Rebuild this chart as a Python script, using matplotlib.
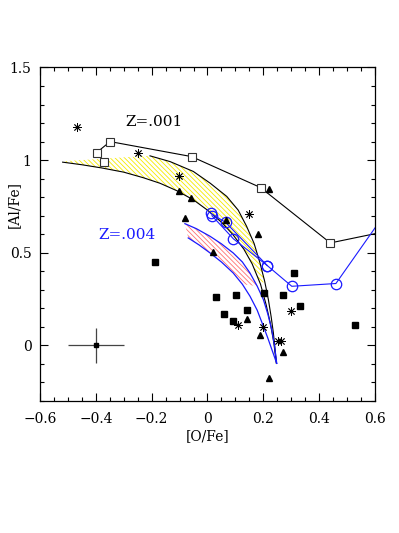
import numpy as np
import matplotlib
matplotlib.use('Agg')
import matplotlib.pyplot as plt
from matplotlib.ticker import MultipleLocator, FuncFormatter

plt.rcParams['font.family'] = ['DejaVu Serif']
plt.rcParams['hatch.linewidth'] = 0.6

# model tracks (open symbols)
z001_x = [-0.370, -0.397, -0.349, -0.057, 0.190, 0.440, 0.700]
z001_y = [0.992, 1.041, 1.100, 1.019, 0.852, 0.553, 0.634]
z004a_x = [0.012, 0.065, 0.214]
z004a_y = [0.712, 0.664, 0.431]
z004b_x = [0.016, 0.093, 0.214, 0.302, 0.460, 0.650]
z004b_y = [0.700, 0.575, 0.431, 0.319, 0.334, 0.741]

# dilution bands, Z=.001 (yellow) and Z=.004 (red)
yl_x = [-0.519, -0.45, -0.38, -0.30, -0.23, -0.17, -0.11, -0.05, 0.00, 0.05, 0.09,
        0.13, 0.16, 0.19, 0.21, 0.225, 0.237, 0.247]
yl_y = [0.989, 0.975, 0.958, 0.935, 0.905, 0.875, 0.835, 0.785, 0.73, 0.665, 0.60,
        0.52, 0.44, 0.33, 0.22, 0.12, 0.02, -0.097]
yu_x = [-0.505, -0.40, -0.30, -0.206, -0.134, -0.051, 0.01, 0.069, 0.11, 0.140, 0.167,
        0.188, 0.205, 0.218, 0.228, 0.236, 0.247]
yu_y = [0.995, 1.005, 1.015, 1.023, 0.992, 0.939, 0.875, 0.804, 0.73, 0.643, 0.55,
        0.445, 0.345, 0.248, 0.155, 0.068, -0.097]
bu_x = [-0.081, -0.04, 0.009, 0.05, 0.092, 0.125, 0.152, 0.178, 0.200, 0.216, 0.230, 0.240, 0.248]
bu_y = [0.657, 0.63, 0.589, 0.548, 0.499, 0.45, 0.391, 0.32, 0.248, 0.17, 0.086, 0.0, -0.097]
bl_x = [-0.069, -0.03, 0.009, 0.05, 0.092, 0.125, 0.152, 0.178, 0.200, 0.216, 0.230, 0.248]
bl_y = [0.580, 0.542, 0.499, 0.45, 0.391, 0.33, 0.266, 0.19, 0.104, 0.04, -0.020, -0.097]

# observed stars
ast_x = [-0.468, -0.250, -0.101, 0.150, 0.110, 0.198, 0.254, 0.262, 0.299]
ast_y = [1.181, 1.041, 0.912, 0.711, 0.111, 0.100, 0.023, 0.023, 0.183]
tri_x = [-0.101, -0.059, -0.081, 0.065, 0.220, 0.182, 0.019, 0.140, 0.189, 0.269, 0.220]
tri_y = [0.836, 0.795, 0.686, 0.675, 0.845, 0.603, 0.503, 0.144, 0.054, -0.036, -0.174]
sq_x = [-0.188, 0.030, 0.101, 0.201, 0.269, 0.060, 0.140, 0.090, 0.310, 0.331, 0.527]
sq_y = [0.451, 0.262, 0.271, 0.282, 0.271, 0.172, 0.190, 0.131, 0.391, 0.212, 0.111]

err_x, err_y, err_dx, err_dy = -0.40, 0.0, 0.10, 0.095

fig = plt.figure(figsize=(3.99, 5.33), dpi=100)
ax = fig.add_axes([0.1003, 0.2477, 0.8395, 0.6257])

def band(xu, yu, xl, yl, ymin, color):
    xu, yu, xl, yl = map(np.asarray, (xu, yu, xl, yl))
    mu = yu >= ymin
    ml = yl >= ymin
    px = np.concatenate([xu[mu], xl[ml][::-1]])
    py = np.concatenate([yu[mu], yl[ml][::-1]])
    ax.fill(px, py, facecolor='none', edgecolor=color, hatch='\\' * 7, lw=0)

band(yu_x, yu_y, yl_x, yl_y, 0.25, '#f5ea00')
band(bu_x, bu_y, bl_x, bl_y, 0.30, '#ff7070')

ax.plot(yl_x, yl_y, color='k', lw=0.8)
ax.plot(yu_x[3:], yu_y[3:], color='k', lw=0.8)
ax.plot(bu_x, bu_y, color='#1a1aff', lw=0.9)
ax.plot(bl_x, bl_y, color='#1a1aff', lw=0.9)

ax.plot(z001_x, z001_y, 'k-', lw=0.8, marker='s', ms=5.5, mfc='white', mec='#333333', mew=0.8)
ax.plot(z004a_x, z004a_y, '-', color='#1a1aff', lw=0.8, marker='o', ms=7.5, mfc='none', mec='#1a1aff', mew=0.9)
ax.plot(z004b_x, z004b_y, '-', color='#1a1aff', lw=0.8, marker='o', ms=7.5, mfc='none', mec='#1a1aff', mew=0.9)

ax.plot(ast_x, ast_y, ls='none', marker=(8, 2, 0), ms=6, mec='k', mew=0.6)
ax.plot(tri_x, tri_y, 'k^', ls='none', ms=4.5)
ax.plot(sq_x, sq_y, 'ks', ls='none', ms=4)
ax.errorbar(err_x, err_y, xerr=err_dx, yerr=err_dy, fmt='ks', ms=3, ecolor='#444444', elinewidth=0.9, capsize=0)

ax.text(-0.191, 1.206, 'Z=.001', fontsize=11, ha='center', va='center')
ax.text(-0.289, 0.598, 'Z=.004', fontsize=11, ha='center', va='center', color='#1a1aff')

ax.set_xlim(-0.6, 0.6)
ax.set_ylim(-0.3, 1.5)
ax.xaxis.set_major_locator(MultipleLocator(0.2))
ax.xaxis.set_minor_locator(MultipleLocator(0.05))
ax.yaxis.set_major_locator(MultipleLocator(0.5))
ax.yaxis.set_minor_locator(MultipleLocator(0.1))
fmt = FuncFormatter(lambda v, p: ('%g' % round(v, 3)).replace('-', '\u2212'))
ax.xaxis.set_major_formatter(fmt)
ax.yaxis.set_major_formatter(fmt)
ax.tick_params(which='both', direction='in', top=True, right=True, labelsize=10, width=0.8)
ax.tick_params(which='major', length=6)
ax.tick_params(axis='x', which='major', pad=8)
ax.tick_params(axis='y', which='major', pad=6)
ax.tick_params(which='minor', length=3.2)
for s in ax.spines.values():
    s.set_linewidth(0.9)

ax.set_xlabel('[O/Fe]', fontsize=10, labelpad=2)
ax.set_ylabel('[Al/Fe]', fontsize=10)
ax.yaxis.set_label_coords(-0.058, 0.588)

fig.savefig('out.png', dpi=100)
